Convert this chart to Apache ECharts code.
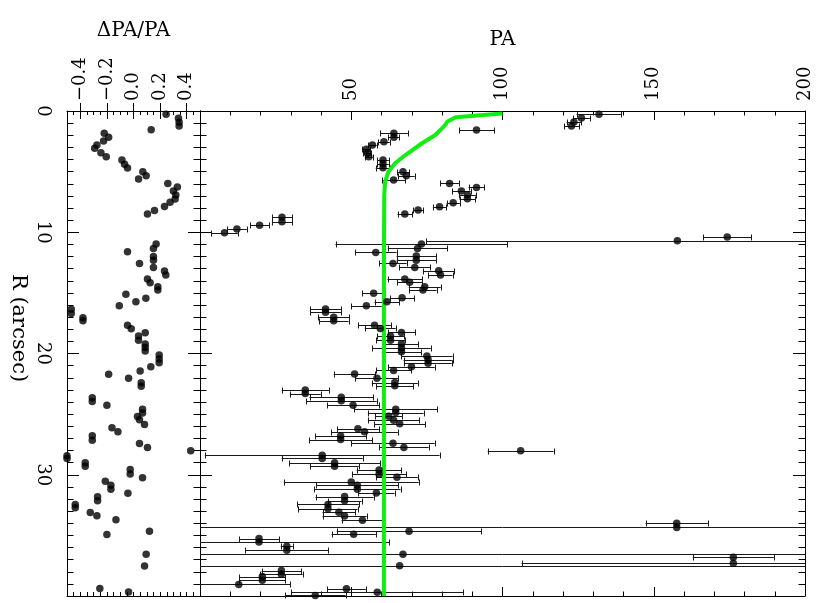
<!DOCTYPE html>
<html>
<head>
<meta charset="utf-8">
<script src="https://cdn.jsdelivr.net/npm/echarts@6/dist/echarts.min.js"></script>
<style>
html,body{margin:0;padding:0;background:#fff;}
#chart{width:817px;height:603px;}
</style>
</head>
<body>
<div id="chart"></div>
<script>
// ---------- data ----------
// right panel: observed PA vs radius, with symmetric errors
const rR = [0.27,0.58,0.91,1.24,1.57,1.84,2.17,2.53,2.8,3.16,
3.49,3.77,4.04,4.37,4.68,5.0,5.33,5.69,5.97,6.3,
6.6,6.93,7.23,7.56,7.9,8.17,8.5,8.77,9.13,9.43,
9.74,10.04,10.4,10.7,10.97,11.33,11.66,11.96,12.3,12.57,
12.9,13.17,13.53,13.86,14.13,14.5,14.77,15.04,15.4,15.73,
16.06,16.34,16.6,17.02,17.3,17.66,17.93,18.26,18.56,18.9,
19.2,19.55,19.85,20.2,20.5,20.8,21.1,21.4,21.7,22.05,
22.4,22.66,23.0,23.3,23.6,23.9,24.26,24.6,24.87,25.17,
25.5,25.8,26.2,26.46,26.8,27.1,27.4,27.75,28.03,28.4,
28.65,29.0,29.3,29.6,29.95,30.2,30.6,30.86,31.2,31.5,
31.8,32.15,32.45,32.8,33.1,33.4,33.75,34.0,34.35,34.65,
34.9,35.26,35.55,35.9,36.22,36.55,36.8,37.3,37.5,37.9,
38.2,38.4,38.7,39.05,39.4,39.7,39.95];
const rPA = [131.9,126.1,123.6,122.8,91.4,64.1,64.1,60.8,57.0,55.0,
55.3,55.8,60.5,60.5,60.5,67.1,68.2,64.0,82.5,91.4,
86.4,88.4,88.4,83.7,79.2,72.1,67.7,27.1,27.1,19.7,
12.2,8.1,174.3,157.8,73.2,71.9,58.1,71.5,71.5,63.8,
71.0,78.9,79.5,67.7,69.3,74.3,73.7,57.4,66.8,61.8,
55.0,41.5,41.5,44.2,44.2,57.7,59.6,66.6,63.0,63.0,
66.6,66.6,66.6,75.0,75.4,75.4,69.9,64.0,51.1,58.5,
64.4,64.4,34.8,34.8,46.7,46.7,50.6,64.7,64.7,62.4,
64.0,66.0,52.2,54.4,46.5,46.5,63.8,67.4,106.0,40.4,
40.4,44.5,44.5,59.2,59.2,65.1,50.0,52.0,52.0,58.3,
47.8,47.8,42.3,42.3,45.9,47.8,53.7,157.6,157.6,69.1,
50.8,19.5,19.5,28.7,28.7,67.1,176.3,176.3,66.0,26.9,
26.9,20.6,20.6,12.8,48.4,58.6,38.1];
const rErr = [7.4,2.8,2.4,2.5,5.8,4.6,1.8,1.9,1.4,1.3,
1.3,1.3,1.9,1.9,2.4,2.0,2.8,3.8,3.1,2.6,
3.1,2.8,2.6,2.2,2.2,1.7,2.4,3.3,3.3,3.1,
3.3,4.4,7.9,83,28.4,9.8,6.9,6.5,6.5,4.5,
5.1,5.2,4.0,5.7,4.1,5.3,4.5,3.7,4.1,4.1,
5.1,5.1,5.1,5.2,4.9,5.4,5.1,4.5,4.4,4.8,
5.5,9.7,6.5,8.5,8.1,7.8,7.7,5.8,6.9,7.1,
7.6,6.1,7.8,5.1,10.5,11.7,8.6,13.8,9.2,4.5,
8.5,8.4,6.9,11.0,8.4,10.4,13.8,8.2,10.9,38.8,
13.4,15.0,8.0,7.4,8.9,6.9,22.3,13.5,14.3,6.0,
9.6,5.6,10.2,9.8,5.4,7.3,6.9,10.3,250,23.9,
7.3,6.6,43,2.0,13.7,250,13.4,70,250,6.5,
7.0,7.6,7.6,17,6.4,28.4,10];

// model curve (green)
const mR  = [0.2,0.4,0.52,0.88,1.15,1.43,1.98,2.66,3.63,4.31,5.0,5.82,7.05,12,20,30,40];
const mPA = [100,90.5,84.5,81.7,81.1,80,77.8,73.4,67.9,64.5,62.3,61.2,60.9,60.8,60.8,60.8,60.8];

// left panel: ΔPA/PA vs radius
const lR = [0.27,0.6,0.93,1.24,1.54,1.84,2.17,2.48,2.8,3.08,
3.44,3.77,4.04,4.4,4.7,5.0,5.34,5.6,5.97,6.27,
6.6,6.93,7.26,7.53,7.87,8.2,8.5,10.97,11.33,11.6,
12.0,12.3,12.57,12.9,13.2,13.53,13.86,14.17,14.5,14.77,
15.12,15.45,15.73,16.06,16.36,16.7,17.05,17.3,17.66,17.96,
18.29,18.56,18.9,19.22,19.5,19.8,20.13,20.45,20.77,21.1,
21.45,21.72,22.05,22.42,22.7,23.65,23.95,24.26,24.6,24.9,
25.2,25.47,25.85,26.13,26.46,26.79,27.15,27.42,27.75,28.03,
28.44,28.66,29.0,29.3,29.57,29.93,30.25,30.53,30.86,31.19,
31.52,31.82,32.15,32.45,32.73,33.11,33.39,33.72,34.65,34.93,
36.55,37.52,39.38,39.66];
const lD = [0.245,0.338,0.343,0.343,0.133,-0.22,-0.187,-0.225,-0.275,-0.292,
-0.245,-0.205,-0.087,-0.067,-0.045,0.07,0.095,0.038,0.258,0.33,
0.3,0.318,0.313,0.275,0.233,0.158,0.105,0.17,0.15,-0.045,
0.15,0.15,0.045,0.15,0.233,0.243,0.105,0.125,0.183,0.183,
-0.057,0.093,0.018,-0.107,-0.468,-0.468,-0.38,-0.38,-0.045,-0.017,
0.088,0.038,0.038,0.088,0.088,0.088,0.193,0.193,0.193,0.13,
0.05,-0.187,-0.037,0.058,0.058,-0.31,-0.31,-0.2,0.068,0.068,
0.03,0.045,0.083,-0.162,-0.117,-0.31,-0.31,0.045,0.105,0.43,
-0.5,-0.5,-0.363,-0.363,-0.025,-0.025,0.068,-0.212,-0.17,-0.17,
-0.042,-0.27,-0.27,-0.438,-0.438,-0.325,-0.275,-0.132,0.12,-0.2,
0.095,0.083,-0.253,-0.037];

// axis tick labels
const dTickLabels = [-0.4,-0.2,0.0,0.2,0.4];
const paTickStep = 50;
const rTickStep = 10;

// ---------- chart ----------
const FONT = 'DejaVu Serif';
const INK = '#000';
const chart = echarts.init(document.getElementById('chart'), null, {renderer:'canvas'});

const errData = rR.map((r,i)=>[rPA[i], r, rErr[i]]);
const rightPts = rR.map((r,i)=>[rPA[i], r]);
const leftPts = lR.map((r,i)=>[lD[i], r]);
const modelPts = mR.map((r,i)=>[mPA[i], r]);

function fmtD(v){
  if (Math.abs(v) < 1e-9) return '0.0';
  const s = v.toFixed(1);
  return s.replace('-', '\u2212');
}
function isMajorD(v){
  return dTickLabels.some(t => Math.abs(t - v) < 1e-6);
}

const lineStyle = {color: INK, width: 1};
const labelStyle = {fontFamily: FONT, fontSize: 18, color: INK};

function xAx(grid, pos, o){
  return Object.assign({
    type:'value', gridIndex:grid, position:pos,
    splitLine:{show:false},
    axisLine:{show:true, onZero:false, lineStyle},
    axisTick:{show:true, inside:true, length:4, lineStyle},
    axisLabel:{show:false}
  }, o);
}
function yAx(grid, pos, o){
  return Object.assign({
    type:'value', gridIndex:grid, position:pos, min:0, max:40, interval:rTickStep, inverse:true,
    splitLine:{show:false},
    axisLine:{show:true, onZero:false, lineStyle},
    axisTick:{show:true, inside:true, length:12, lineStyle},
    minorTick:{show:true, splitNumber:10, length:6.5, lineStyle},
    axisLabel:{show:false}
  }, o);
}

const option = {
  backgroundColor:'#fff',
  animation:false,
  grid:[
    {left:67, top:111, width:133, height:485},
    {left:200, top:111, width:605, height:485}
  ],
  xAxis:[
    // left panel, top (minor ticks + labels)
    xAx(0,'top',{min:-0.5,max:0.5,interval:0.05,
      name:'\u0394PA/PA', nameLocation:'middle', nameGap:70,
      nameTextStyle:{fontFamily:FONT, fontSize:20, color:INK},
      axisLabel:{show:true, interval:0, rotate:-90, margin:10, padding:[0,0,6,0], ...labelStyle,
        formatter:v => isMajorD(v) ? fmtD(v) : ''}}),
    // left panel, top (major ticks)
    xAx(0,'top',{min:-0.5,max:0.5, axisLine:{show:false},
      axisTick:{show:true, inside:true, length:8, lineStyle, customValues:dTickLabels}}),
    // left panel, bottom
    xAx(0,'bottom',{min:-0.5,max:0.5,interval:0.05}),
    xAx(0,'bottom',{min:-0.5,max:0.5, axisLine:{show:false},
      axisTick:{show:true, inside:true, length:8, lineStyle, customValues:dTickLabels}}),
    // right panel, top
    xAx(1,'top',{min:0,max:200,interval:paTickStep,
      name:'PA', nameLocation:'middle', nameGap:61,
      nameTextStyle:{fontFamily:FONT, fontSize:20, color:INK},
      axisTick:{show:true, inside:true, length:9, lineStyle},
      minorTick:{show:true, splitNumber:5, length:4.5, lineStyle},
      axisLabel:{show:true, rotate:-90, margin:10, padding:[0,0,6,0], showMinLabel:false, ...labelStyle}}),
    // right panel, bottom
    xAx(1,'bottom',{min:0,max:200,interval:paTickStep,
      axisTick:{show:true, inside:true, length:9, lineStyle},
      minorTick:{show:true, splitNumber:5, length:4.5, lineStyle}})
  ],
  yAxis:[
    yAx(0,'left',{axisLabel:{show:true, rotate:-90, margin:15, showMaxLabel:false, ...labelStyle}}),
    yAx(0,'right',{}),
    yAx(1,'left',{}),
    yAx(1,'right',{})
  ],
  graphic:[{
    type:'text', x:18, y:328, rotation:-Math.PI/2,
    style:{text:'R (arcsec)', fontFamily:FONT, fontSize:21, fill:INK, align:'center', verticalAlign:'middle'}
  }],
  series:[
    {
      type:'scatter', xAxisIndex:0, yAxisIndex:0, data:leftPts,
      symbol:'circle', symbolSize:7.5, itemStyle:{color:INK}, z:5
    },
    {
      type:'custom', xAxisIndex:4, yAxisIndex:2, data:errData,
      encode:{x:0, y:1}, z:2,
      renderItem:function(params, api){
        const pa = api.value(0), r = api.value(1), e = api.value(2);
        const p1 = api.coord([pa - e, r]);
        const p2 = api.coord([pa + e, r]);
        const cs = params.coordSys;
        const x0 = cs.x, x1 = cs.x + cs.width;
        const y = Math.round(p1[1]) + 0.5;
        const a = Math.max(p1[0], x0), b = Math.min(p2[0], x1);
        const st = {stroke:'#1a1a1a', lineWidth:1};
        const h = 3;
        const ch = [{type:'line', shape:{x1:a, y1:y, x2:b, y2:y}, style:st}];
        if (p1[0] >= x0) { const cx = Math.round(p1[0]) + 0.5; ch.push({type:'line', shape:{x1:cx, y1:y-h, x2:cx, y2:y+h}, style:st}); }
        if (p2[0] <= x1) { const cx = Math.round(p2[0]) + 0.5; ch.push({type:'line', shape:{x1:cx, y1:y-h, x2:cx, y2:y+h}, style:st}); }
        return {type:'group', children:ch};
      }
    },
    {
      type:'line', xAxisIndex:4, yAxisIndex:2, data:modelPts,
      showSymbol:false, symbol:'none', smooth:false, z:3,
      lineStyle:{color:'#11ee11', width:4}
    },
    {
      type:'scatter', xAxisIndex:4, yAxisIndex:2, data:rightPts,
      symbol:'circle', symbolSize:7.5, itemStyle:{color:INK}, z:5
    }
  ]
};
chart.setOption(option);
</script>
</body>
</html>
